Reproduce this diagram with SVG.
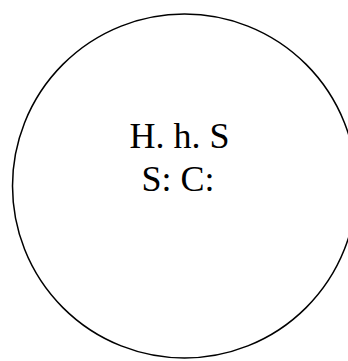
<svg xmlns="http://www.w3.org/2000/svg" width="348" height="361" viewBox="0 0 348 361">
  <style>
    .node { fill: #ffffff; stroke: #000000; stroke-width: 1.5; }
    .label { font-family: "Liberation Serif", "Times New Roman", serif; font-size: 36px; fill: #000000; text-anchor: middle; }
  </style>
  <rect width="348" height="361" fill="#ffffff"/>
  <g id="connectors"></g>
  <g id="node-1">
    <circle class="node" cx="184.5" cy="186" r="172"/>
    <text class="label" x="179.5" y="148">H. h. S</text>
    <text class="label" x="178" y="191">S: C:</text>
  </g>
</svg>
